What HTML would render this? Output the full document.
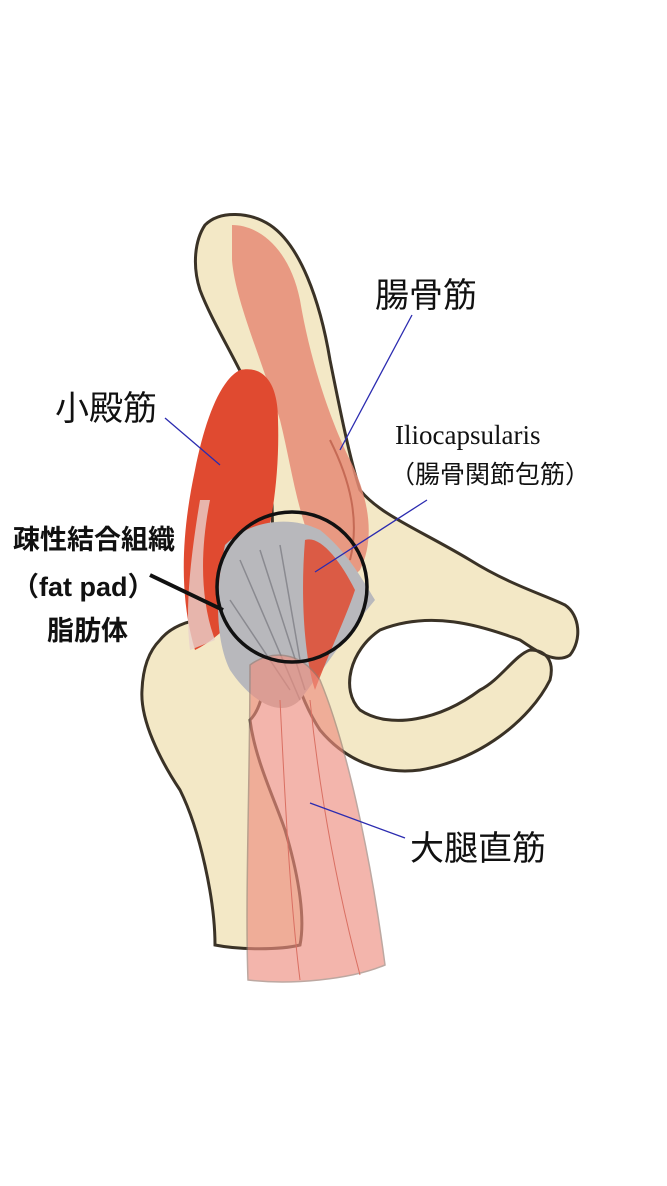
<!DOCTYPE html>
<html><head><meta charset="utf-8"><style>
html,body{margin:0;padding:0;background:#fff;}
svg{display:block}
text{font-family:"Liberation Sans","Noto Sans CJK JP",sans-serif;}
</style></head><body>
<svg width="667" height="1186" viewBox="0 0 667 1186" xmlns="http://www.w3.org/2000/svg">
<rect width="667" height="1186" fill="#fff"/>
<path d="M205,225 C220,210 250,212 270,225 C300,245 320,300 330,360 C340,410 350,460 360,490 C380,515 420,530 470,560 C510,585 545,595 565,605 C580,615 582,640 570,655 C555,665 535,650 520,640 C480,625 430,610 380,630 C350,650 340,690 360,710 C390,730 440,720 480,690 C500,680 515,655 530,650 C545,650 555,660 550,680 C530,720 480,760 420,770 C380,775 345,760 320,730 C300,700 280,640 275,580 C270,520 275,470 265,430 C250,380 215,330 200,290 C192,265 195,240 205,225 Z" fill="#f3e8c6" stroke="#3a3226" stroke-width="3"/>
<path d="M160,640 C180,615 230,610 255,640 C270,665 265,705 250,720 C255,760 275,800 285,830 C300,880 305,920 300,945 C280,950 240,950 215,945 C215,900 200,830 180,790 C160,760 140,720 142,690 C143,665 150,650 160,640 Z" fill="#f3e8c6" stroke="#3a3226" stroke-width="3"/>
<path d="M232,225 C260,225 290,250 300,300 C310,360 330,420 350,460 C370,500 375,540 360,570 C340,590 320,570 310,540 C295,500 290,460 280,420 C262,360 235,300 232,260 Z" fill="#e58b75" opacity="0.85"/>
<path d="M330,440 C350,480 360,520 350,560" stroke="#c56a55" stroke-width="2" fill="none"/>
<path d="M240,370 C265,365 278,385 278,420 C280,480 270,540 255,580 C240,620 215,640 195,650 C180,600 180,540 195,470 C205,420 220,380 240,370 Z" fill="#e04a30"/>
<path d="M200,500 C190,560 185,610 190,650 L215,640 C200,600 200,550 210,500 Z" fill="#e8d0cc" opacity="0.8"/>
<path d="M225,545 C250,520 290,515 320,530 C345,550 360,575 375,600 C350,630 330,660 300,700 C280,720 250,700 230,670 C215,640 215,590 225,545 Z" fill="#b8b8bc"/>
<path d="M240,560 L300,700 M260,550 L305,690 M280,545 L300,660 M230,600 L290,690" stroke="#8a8a90" stroke-width="1.5"/>
<path d="M305,540 C320,535 340,560 355,590 C345,620 330,650 315,690 C305,660 300,600 305,540 Z" fill="#e04a30" opacity="0.85"/>
<path d="M250,665 C270,650 300,650 320,680 C345,740 370,850 385,965 C350,980 290,985 248,980 C245,900 250,780 250,665 Z" fill="#ee8f80" opacity="0.65" stroke="#9a7a70" stroke-width="1.5"/>
<path d="M280,700 C285,800 290,900 300,980 M310,700 C320,800 340,900 360,975" stroke="#d96f62" stroke-width="1" fill="none"/>
<circle cx="292" cy="587" r="75" fill="none" stroke="#111" stroke-width="3.5"/>
<line x1="412" y1="315" x2="340" y2="450" stroke="#2b2bb0" stroke-width="1.3"/>
<line x1="165" y1="418" x2="220" y2="465" stroke="#2b2bb0" stroke-width="1.3"/>
<line x1="427" y1="500" x2="315" y2="572" stroke="#2b2bb0" stroke-width="1.3"/>
<line x1="405" y1="838" x2="310" y2="803" stroke="#2b2bb0" stroke-width="1.3"/>
<line x1="150" y1="575" x2="223" y2="610" stroke="#111" stroke-width="4"/>
<text x="375" y="307" font-size="34" fill="#111">腸骨筋</text>
<text x="55" y="420" font-size="34" fill="#111">小殿筋</text>
<text x="395" y="444" font-size="27" fill="#111" style='font-family:"Liberation Serif",serif'>Iliocapsularis</text>
<text x="390" y="483" font-size="25" fill="#111">（腸骨関節包筋）</text>
<text x="13" y="549" font-size="27" font-weight="bold" fill="#111">疎性結合組織</text>
<text x="12" y="596" font-size="27" font-weight="bold" fill="#111">（fat pad）</text>
<text x="47" y="640" font-size="27" font-weight="bold" fill="#111">脂肪体</text>
<text x="410" y="860" font-size="34" fill="#111">大腿直筋</text>
</svg>
</body></html>
